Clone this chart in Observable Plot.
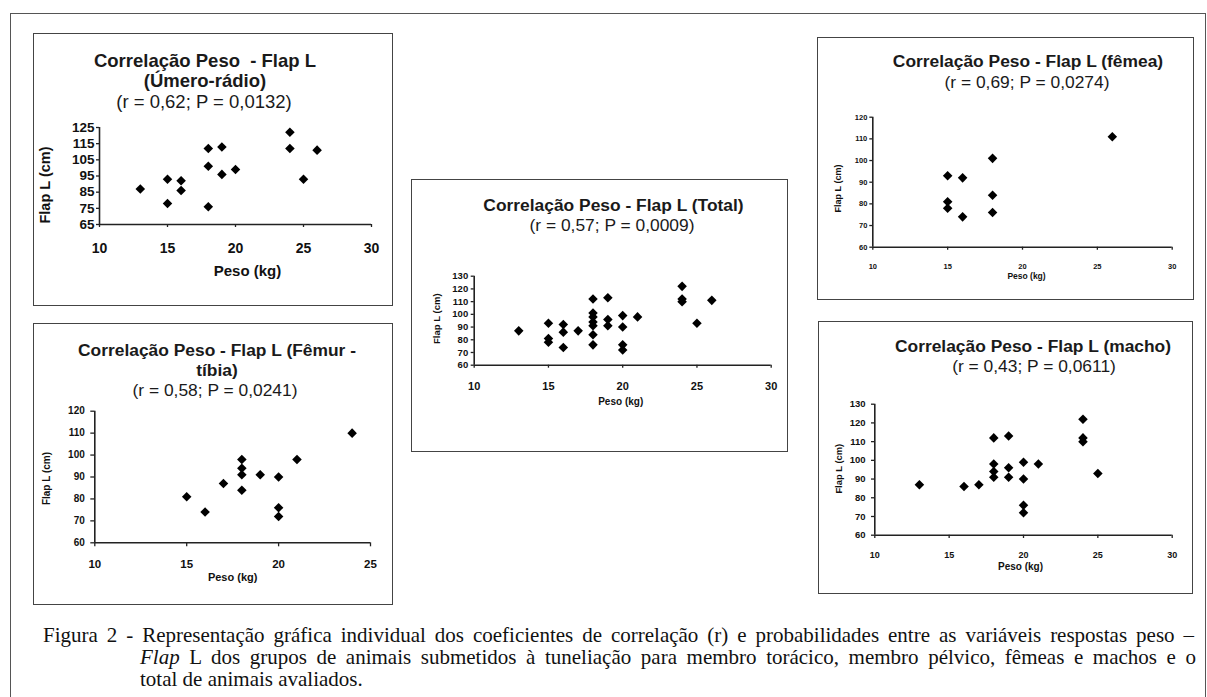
<!DOCTYPE html>
<html><head><meta charset="utf-8">
<script src="https://cdn.jsdelivr.net/npm/d3@7"></script>
<script src="https://cdn.jsdelivr.net/npm/@observablehq/plot@0.6"></script>
<style>
html,body{margin:0;padding:0;background:#fff;}
body{width:1207px;height:697px;overflow:hidden;position:relative;font-family:"Liberation Sans",Arial,sans-serif;}
.frame{position:absolute;left:10px;top:13px;width:1196px;height:720px;border:1.5px solid #555;box-sizing:border-box;}
.box{position:absolute;border:1.5px solid #444;box-sizing:border-box;}
.plot{position:absolute;}
.t{position:absolute;white-space:pre;transform:translate(-50%,-50%);color:#1a1a1a;line-height:20px;}
.cap{position:absolute;font-family:"Liberation Serif","Times New Roman",serif;font-size:21px;line-height:22px;color:#111;text-align:justify;text-align-last:justify;}
</style></head><body>
<div class="frame"></div>
<div id="root"></div>
<div class="cap" style="left:43px;top:624px;width:1151px;">Figura 2 - Representação gráfica individual dos coeficientes de correlação (r) e probabilidades entre as variáveis respostas peso –</div>
<div class="cap" style="left:140px;top:646px;width:1056px;"><i>Flap</i> L dos grupos de animais submetidos à tuneliação para membro torácico, membro pélvico, fêmeas e machos e o</div>
<div class="cap" style="left:140px;top:668px;text-align:left;text-align-last:left;white-space:nowrap;">total de animais avaliados.</div>
<script>
// ---- data (Peso in kg, Flap L in cm) ----
const humeroPeso = [13, 15, 15, 16, 16, 18, 18, 18, 19, 19, 20, 24, 24, 25, 26];
const humeroFlap = [87, 93, 78, 92, 86, 112, 101, 76, 113, 96, 99, 122, 112, 93, 111];
const femurPeso = [15, 16, 17, 18, 18, 18, 18, 19, 20, 20, 20, 21, 24];
const femurFlap = [81, 74, 87, 98, 94, 91, 84, 91, 90, 76, 72, 98, 110];
const totalPeso = [13, 15, 15, 15, 16, 16, 16, 17, 18, 18, 18, 18, 18, 18, 18, 19, 19, 19, 20, 20, 20, 20, 21, 24, 24, 24, 25, 26];
const totalFlap = [87, 93, 81, 78, 92, 86, 74, 87, 112, 101, 98, 94, 91, 84, 76, 113, 96, 91, 99, 90, 76, 72, 98, 122, 112, 110, 93, 111];
const femeaPeso = [15, 15, 15, 16, 16, 18, 18, 18, 26];
const femeaFlap = [93, 81, 78, 92, 74, 101, 84, 76, 111];
const machoPeso = [13, 16, 17, 18, 18, 18, 18, 19, 19, 19, 20, 20, 20, 20, 21, 24, 24, 24, 25];
const machoFlap = [87, 86, 87, 112, 98, 94, 91, 113, 96, 91, 99, 90, 76, 72, 98, 122, 112, 110, 93];

// ---- tick labels ----
const xTicksA = [10, 15, 20, 25, 30];
const xTicksB = [10, 15, 20, 25];
const yTicksHumero = [65, 75, 85, 95, 105, 115, 125];
const yTicks60to120 = [60, 70, 80, 90, 100, 110, 120];
const yTicks60to130 = [60, 70, 80, 90, 100, 110, 120, 130];

// ---- titles ----
const titlesHumero = ["Correlação Peso  - Flap L", "(Úmero-rádio)", "(r = 0,62; P = 0,0132)"];
const titlesFemur = ["Correlação Peso - Flap L (Fêmur -", "tíbia)", "(r = 0,58; P = 0,0241)"];
const titlesTotal = ["Correlação Peso - Flap L (Total)", "(r = 0,57; P = 0,0009)"];
const titlesFemea = ["Correlação Peso - Flap L (fêmea)", "(r = 0,69; P = 0,0274)"];
const titlesMacho = ["Correlação Peso - Flap L (macho)", "(r = 0,43; P = 0,0611)"];
const xLabel = "Peso (kg)";
const yLabel = "Flap L (cm)";

const rows = (px, fy) => px.map((p, i) => ({peso: p, flap: fy[i]}));

const panels = [
  {data: rows(humeroPeso, humeroFlap), xt: xTicksA, yt: yTicksHumero,
   box: [33, 33, 360, 273], plot: [99, 371, 127, 224],
   yfs: 13.5, xfs: 14, ts: 3, ypad: 2, xpad: 16,
   xl: {fs: 15, dx: 12, dy: 47}, yl: {fs: 14.5, dx: -54, dy: 9},
   titles: titlesHumero, tfs: 18.5, tx: [205, 205, 204], ty: [60.7, 80.7, 101.7], tb: [1, 1, 0]},
  {data: rows(femurPeso, femurFlap), xt: xTicksB, yt: yTicks60to120,
   box: [33, 323, 360, 282], plot: [94.3, 370, 410.7, 542.3],
   yfs: 10, xfs: 11.5, ts: 4, ypad: 6, xpad: 13.5,
   xl: {fs: 11, dx: 0, dy: 34.7}, yl: {fs: 10, dx: -48.3, dy: 1.5},
   titles: titlesFemur, tfs: 17.4, tx: [217, 217, 215], ty: [350, 370, 390], tb: [1, 1, 0]},
  {data: rows(totalPeso, totalFlap), xt: xTicksA, yt: yTicks60to130,
   box: [411, 179, 377, 273], plot: [473.7, 770.7, 275.7, 364.7],
   yfs: 9.5, xfs: 11, ts: 3, ypad: 3, xpad: 14.3,
   xl: {fs: 10, dx: -2, dy: 36.3}, yl: {fs: 9.5, dx: -37.7, dy: -2},
   titles: titlesTotal, tfs: 17.4, tx: [613.5, 612], ty: [204.7, 224.7], tb: [1, 0]},
  {data: rows(femeaPeso, femeaFlap), xt: xTicksA, yt: yTicks60to120,
   box: [817, 37, 377, 263], plot: [872.3, 1171.7, 116.7, 246.7],
   yfs: 7.5, xfs: 7.5, ts: 3, ypad: 2.5, xpad: 13.6,
   xl: {fs: 8.5, dx: 4, dy: 29}, yl: {fs: 9, dx: -34.3, dy: 6.3},
   titles: titlesFemea, tfs: 17.4, tx: [1028, 1027], ty: [61, 81.7], tb: [1, 0]},
  {data: rows(machoPeso, machoFlap), xt: xTicksA, yt: yTicks60to130,
   box: [818, 321, 375, 273], plot: [874.3, 1171.7, 403.7, 534.7],
   yfs: 9.5, xfs: 9, ts: 3.3, ypad: 6, xpad: 13.3,
   xl: {fs: 10, dx: -3, dy: 31.3}, yl: {fs: 9.4, dx: -36.3, dy: -1},
   titles: titlesMacho, tfs: 17.4, tx: [1033, 1034], ty: [346, 366], tb: [1, 0]}
];

const root = document.getElementById("root");
const AX = "#222";

for (const p of panels) {
  const [bx, by, bw, bh] = p.box;
  const [x0, x1, y0, y1] = p.plot;
  const box = document.createElement("div");
  box.className = "box";
  Object.assign(box.style, {left: bx + "px", top: by + "px", width: bw + "px", height: bh + "px"});
  root.appendChild(box);

  const chart = Plot.plot({
    width: bw, height: bh,
    marginLeft: x0 - bx, marginRight: bx + bw - x1,
    marginTop: y0 - by, marginBottom: by + bh - y1,
    style: {background: "transparent", fontFamily: "'Liberation Sans', Arial, sans-serif", color: "#111", overflow: "visible"},
    x: {domain: [p.xt[0], p.xt[p.xt.length - 1]]},
    y: {domain: [p.yt[0], p.yt[p.yt.length - 1]]},
    marks: [
      Plot.axisX(p.xt, {tickSize: p.ts, tickPadding: p.xpad, fontSize: p.xfs, fontWeight: "bold", label: null, strokeWidth: 1.3, stroke: AX}),
      Plot.axisY(p.yt, {tickSize: p.ts, tickPadding: p.ypad, fontSize: p.yfs, fontWeight: "bold", label: null, strokeWidth: 1.3, stroke: AX}),
      Plot.ruleY([p.yt[0]], {stroke: AX, strokeWidth: 1.6}),
      Plot.ruleX([p.xt[0]], {stroke: AX, strokeWidth: 1.6}),
      Plot.dot(p.data, {x: "peso", y: "flap", symbol: "diamond2", r: 4.3, fill: "#000"}),
      Plot.text([xLabel], {text: d => d, frameAnchor: "bottom", textAnchor: "middle", dx: p.xl.dx, dy: p.xl.dy, lineAnchor: "middle", fontSize: p.xl.fs, fontWeight: "bold", fill: "#111"}),
      Plot.text([yLabel], {text: d => d, frameAnchor: "left", textAnchor: "middle", rotate: -90, dx: p.yl.dx, dy: p.yl.dy, lineAnchor: "middle", fontSize: p.yl.fs, fontWeight: "bold", fill: "#111"})
    ]
  });
  chart.classList.add("plot");
  chart.style.left = bx + "px";
  chart.style.top = by + "px";
  chart.style.position = "absolute";
  root.appendChild(chart);

  p.titles.forEach((t, i) => {
    const d = document.createElement("div");
    d.className = "t";
    d.textContent = t;
    Object.assign(d.style, {left: p.tx[i] + "px", top: p.ty[i] + "px", fontSize: p.tfs + "px", fontWeight: p.tb[i] ? "bold" : "normal"});
    root.appendChild(d);
  });
}
</script>
</body></html>
